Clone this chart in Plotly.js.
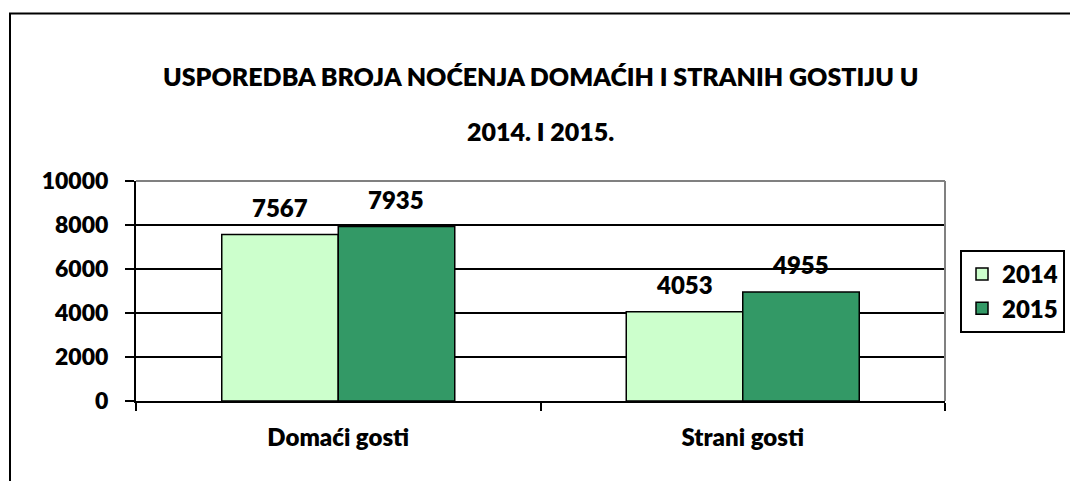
<!DOCTYPE html>
<html>
<head>
<meta charset="utf-8">
<script src="https://cdn.plot.ly/plotly-3.0.1.min.js"></script>
<style>
html,body{margin:0;padding:0;background:#fff;}
#chart{width:1070px;height:481px;}
</style>
</head>
<body>
<div id="chart"></div>
<script>
const categories = ["Domaći gosti", "Strani gosti"];
const seriesNames = ["2014", "2015"];
const values2014 = [7567, 4053];
const values2015 = [7935, 4955];
const yTicks = [0, 2000, 4000, 6000, 8000, 10000];
const titleLine1 = "USPOREDBA BROJA NOĆENJA DOMAĆIH I STRANIH GOSTIJU U";
const titleLine2 = "2014. I 2015.";

const FONT = "Lato, 'Open Sans', sans-serif";
const W = 800;
const colors = ["#CCFFCC", "#339966"];
const allValues = [values2014, values2015];

const plotW = 809, bargap = 0.424;
const catW = plotW / categories.length;
const barW = catW * (1 - bargap) / 2;

const traces = allValues.map((vals, i) => ({
  type: "bar",
  name: seriesNames[i],
  x: categories,
  y: vals,
  marker: {color: colors[i], line: {color: "#000", width: 1.5}},
  legendgroup: "g" + i,
  hoverinfo: "y"
}));

const annotations = [];
allValues.forEach((vals, i) => {
  vals.forEach((v, j) => {
    annotations.push({
      x: categories[j], y: v, xref: "x", yref: "y",
      text: String(v), showarrow: false,
      xshift: (i === 0 ? -1 : 1) * barW / 2,
      yshift: 27,
      font: {family: FONT, size: 24, color: "#000", weight: W}
    });
  });
});
annotations.push({
  xref: "paper", yref: "paper", x: 0.5, y: (401 - 131) / 220,
  text: titleLine2, showarrow: false, xanchor: "center", yanchor: "middle",
  font: {family: FONT, size: 25, color: "#000", weight: W}
});
annotations.push({
  xref: "paper", yref: "paper", x: 0.5, y: (401 - 76) / 220,
  text: titleLine1, showarrow: false, xanchor: "center", yanchor: "middle",
  font: {family: FONT, size: 25, color: "#000", weight: W}
});

const layout = {
  width: 1070, height: 481,
  margin: {l: 136, r: 125, t: 181, b: 80, pad: 0, autoexpand: false},
  paper_bgcolor: "#fff", plot_bgcolor: "#fff",
  font: {family: FONT, color: "#000"},
  barmode: "group", bargap: bargap, bargroupgap: 0,
  showlegend: true,
  legend: {
    x: (960 - 136) / 809, y: (401 - 250) / 220, xanchor: "left", yanchor: "top",
    bordercolor: "#000", borderwidth: 2, bgcolor: "#fff",
    font: {family: FONT, size: 24, color: "#000", weight: W},
    tracegroupgap: 4, traceorder: "normal"
  },
  xaxis: {
    type: "category", showgrid: false, showline: true, linecolor: "#000", linewidth: 2,
    ticks: "outside", tickson: "boundaries", ticklen: 8, tickwidth: 2, tickcolor: "#000",
    tickfont: {family: FONT, size: 24, color: "#000", weight: W},
    ticklabelstandoff: 14, zeroline: false, fixedrange: true
  },
  yaxis: {
    range: [0, 10000], tickvals: yTicks, ticktext: yTicks.map(String),
    showgrid: true, gridcolor: "#000", gridwidth: 1.5,
    showline: true, linecolor: "#000", linewidth: 2,
    ticks: "outside", ticklen: 9, tickwidth: 2, tickcolor: "#000",
    tickfont: {family: FONT, size: 23, color: "#000", weight: W},
    ticklabelstandoff: 12, zeroline: false, fixedrange: true
  },
  shapes: [
    {type: "line", xref: "paper", yref: "paper", x0: 0, x1: 1, y0: 1, y1: 1,
     line: {color: "#808080", width: 2}, layer: "above"},
    {type: "line", xref: "paper", yref: "paper", x0: 1, x1: 1, y0: 0, y1: 1,
     line: {color: "#808080", width: 2}, layer: "above"},
    {type: "rect", xref: "paper", yref: "paper",
     x0: (10 - 136) / 809, x1: (1080 - 136) / 809,
     y0: (401 - 500) / 220, y1: (401 - 13.5) / 220,
     line: {color: "#000", width: 2}, fillcolor: "rgba(0,0,0,0)", layer: "below"}
  ],
  annotations: annotations
};

Plotly.newPlot("chart", traces, layout, {displayModeBar: false, staticPlot: true});
</script>
</body>
</html>
